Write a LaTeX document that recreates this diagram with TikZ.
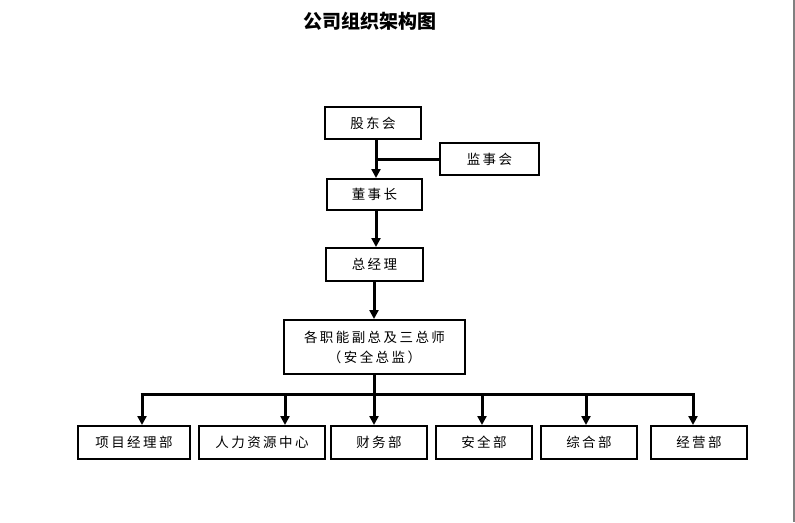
\documentclass[tikz,border=0pt]{standalone}
\usepackage{fontspec}
\usetikzlibrary{arrows.meta}
\newfontfamily\cjk[LetterSpace=18]{Noto Sans CJK SC}
\newfontfamily\cjktitle{Noto Sans CJK SC}
\tikzset{
  box/.style={draw=black, line width=2pt, rectangle, inner sep=0pt, font=\cjk\fontsize{13.5}{20}\selectfont, align=center},
  conn/.style={line width=3pt, draw=black},
  arr/.style={conn, -{Triangle[length=9pt,width=9pt]}},
}
\begin{document}
\begin{tikzpicture}[x=1pt,y=-1pt]
\fill[white] (0,0) rectangle (795,522);
\useasboundingbox (0,0) rectangle (795,522);
\draw[gray, line width=1.5pt] (794,0) -- (794,522);

\node[font=\cjktitle\bfseries\fontsize{19}{22}\selectfont] (title) at (370,21) {公司组织架构图};

\node[box, minimum width=96pt, minimum height=32pt] (gd) at (373,123) {股东会};
\node[box, minimum width=99pt, minimum height=32pt] (js) at (489.5,159) {监事会};
\node[box, minimum width=95pt, minimum height=31pt] (dsz) at (374.5,194.5) {董事长};
\node[box, minimum width=97pt, minimum height=33pt] (zjl) at (374.5,264.5) {总经理};
\node[box, minimum width=181pt, minimum height=54pt] (fz) at (374.5,347) {各职能副总及三总师\\（安全总监）};

\node[box, minimum width=112pt, minimum height=33pt] (xm) at (134,442.5) {项目经理部};
\node[box, minimum width=126pt, minimum height=33pt] (rl) at (262,442.5) {人力资源中心};
\node[box, minimum width=96pt, minimum height=33pt] (cw) at (379,442.5) {财务部};
\node[box, minimum width=96pt, minimum height=33pt] (aq) at (484,442.5) {安全部};
\node[box, minimum width=96pt, minimum height=33pt] (zh) at (589,442.5) {综合部};
\node[box, minimum width=96pt, minimum height=33pt] (jy) at (699,442.5) {经营部};

\coordinate (t1) at (376,0);
\coordinate (t2) at (374,0);
\draw[arr] (t1 |- gd.south) -- (t1 |- dsz.north);
\draw[conn] (t1 |- js.west) -- (js.west);
\draw[arr] (t1 |- dsz.south) -- (t1 |- zjl.north);
\draw[arr] (t2 |- zjl.south) -- (t2 |- fz.north);

\coordinate (b1) at (142,394);
\coordinate (b2) at (285,394);
\coordinate (b3) at (374,394);
\coordinate (b4) at (482,394);
\coordinate (b5) at (586,394);
\coordinate (b6) at (693,394);
\draw[conn] (t2 |- fz.south) -- (b3);
\draw[conn] ([xshift=-1.5pt]b1) -- ([xshift=1.5pt]b6);
\draw[arr] (b1) -- (b1 |- xm.north);
\draw[arr] (b2) -- (b2 |- rl.north);
\draw[arr] (b3) -- (b3 |- cw.north);
\draw[arr] (b4) -- (b4 |- aq.north);
\draw[arr] (b5) -- (b5 |- zh.north);
\draw[arr] (b6) -- (b6 |- jy.north);
\end{tikzpicture}
\end{document}
